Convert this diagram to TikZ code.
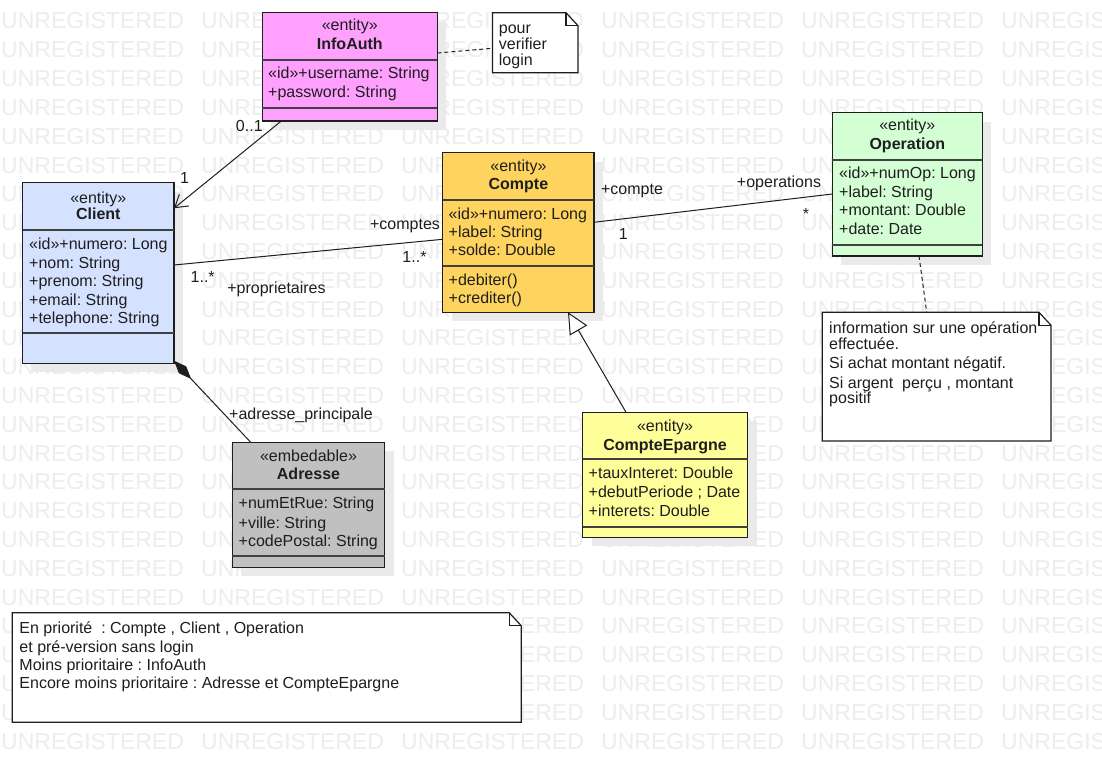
\documentclass[tikz,border=0pt]{standalone}
\usepackage{fontspec}
\setmainfont{Liberation Sans}
\usetikzlibrary{arrows.meta,shadows}
\definecolor{cInfo}{HTML}{FFA0FF}
\definecolor{cClient}{HTML}{D4E1FF}
\definecolor{cCompte}{HTML}{FFD45E}
\definecolor{cOper}{HTML}{D4FFD4}
\definecolor{cEpargne}{HTML}{FFFF99}
\definecolor{cAdr}{HTML}{C0C0C0}
\definecolor{wmgray}{HTML}{EDEDED}
\definecolor{shadowgray}{HTML}{EAEAEA}
\definecolor{inkc}{HTML}{1E1E1E}
\tikzset{
  classbox/.style={draw=inkc, line width=1.2pt, inner sep=0pt, outer sep=0pt,
    drop shadow={shadow xshift=9pt, shadow yshift=-9pt, fill=shadowgray, opacity=1}},
  sepline/.style={draw=black!75, line width=2pt},
  notebox/.style={inner sep=0pt, outer sep=0pt},
  noteline/.style={draw=inkc, line width=1.2pt, line join=miter},
  txt/.style={font=\fontsize{16}{18}\selectfont\frenchspacing, inner sep=0pt, text=inkc},
  wm/.style={font=\fontsize{23}{23}\selectfont, text=wmgray, inner sep=0pt, anchor=base west},
  conn/.style={draw=inkc, line width=1pt},
}
\newcommand\umlbox[8]{%
  \node[classbox, fill=#6, minimum width=#4pt, minimum height=#5pt, anchor=north west] (#1) at (#2,#3) {};
  \draw[sepline] ([yshift=-#7pt]#1.north west) -- ([yshift=-#7pt]#1.north east);
  \draw[sepline] ([yshift=-#8pt]#1.north west) -- ([yshift=-#8pt]#1.north east);
}
\newcommand\notefold[1]{%
  \draw[noteline, fill=white] (#1.north west) -- ([xshift=-12pt]#1.north east) -- ([yshift=-13pt]#1.north east) -- (#1.south east) -- (#1.south west) -- cycle;
  \draw[noteline] ([xshift=-12pt]#1.north east) -- ([xshift=-12pt,yshift=-13pt]#1.north east) -- ([yshift=-13pt]#1.north east);
}
\begin{document}
\frenchspacing
\begin{tikzpicture}[x=1pt,y=-1pt]
\useasboundingbox (0,0) rectangle (1102,773);
\fill[white] (0,0) rectangle (1102,773);
% watermark
\begin{scope}
\clip (0,0) rectangle (1102,773);
\foreach \r in {0,...,25}{
  \foreach \c in {0,...,5}{
    \node[wm] (wm-\r-\c) at ({1+200*\c},{29+28.8*\r}) {UNREGISTERED};
  }
}
\end{scope}

% class boxes
\umlbox{infoauth}{262.2}{12.7}{175.2}{108.3}{cInfo}{47.6}{95}
\umlbox{client}{22.7}{182.7}{151.3}{180.6}{cClient}{47.3}{150.6}
\umlbox{compte}{442.8}{152.7}{151.2}{159.6}{cCompte}{47.6}{113.6}
\umlbox{operation}{832.3}{112.7}{150}{143.3}{cOper}{47.3}{132.3}
\umlbox{adresse}{232.3}{442.3}{152.3}{125}{cAdr}{47}{113.7}
\umlbox{epargne}{582.5}{412.3}{165.3}{125}{cEpargne}{47}{114.4}

% InfoAuth text
\node[txt,anchor=base] (infoauth-s) at (349.8,30.5) {«entity»};
\node[txt,anchor=base] (infoauth-n) at (349.8,50) {\textbf{InfoAuth}};
\node[txt,anchor=base west] (infoauth-a1) at (268,78.2) {«id»+username: String};
\node[txt,anchor=base west] (infoauth-a2) at (268,97.2) {+password: String};

% Client text
\node[txt,anchor=base] (client-s) at (98.3,203) {«entity»};
\node[txt,anchor=base] (client-n) at (98.3,219.5) {\textbf{Client}};
\node[txt,anchor=base west] (client-a1) at (29,249.5) {«id»+numero: Long};
\node[txt,anchor=base west] (client-a2) at (29,268) {+nom: String};
\node[txt,anchor=base west] (client-a3) at (29,286.5) {+prenom: String};
\node[txt,anchor=base west] (client-a4) at (29,305) {+email: String};
\node[txt,anchor=base west] (client-a5) at (29,323.5) {+telephone: String};

% Compte text
\node[txt,anchor=base] (compte-s) at (518.4,171) {«entity»};
\node[txt,anchor=base] (compte-n) at (518.4,189.8) {\textbf{Compte}};
\node[txt,anchor=base west] (compte-a1) at (448.5,219.5) {«id»+numero: Long};
\node[txt,anchor=base west] (compte-a2) at (448.5,237.8) {+label: String};
\node[txt,anchor=base west] (compte-a3) at (448.5,255.8) {+solde: Double};
\node[txt,anchor=base west] (compte-m1) at (448.5,285.5) {+debiter()};
\node[txt,anchor=base west] (compte-m2) at (448.5,303.8) {+crediter()};

% Operation text
\node[txt,anchor=base] (operation-s) at (907.3,130.5) {«entity»};
\node[txt,anchor=base] (operation-n) at (907.3,149.8) {\textbf{Operation}};
\node[txt,anchor=base west] (operation-a1) at (839,178.8) {«id»+numOp: Long};
\node[txt,anchor=base west] (operation-a2) at (839,197.8) {+label: String};
\node[txt,anchor=base west] (operation-a3) at (839,215.8) {+montant: Double};
\node[txt,anchor=base west] (operation-a4) at (839,234.8) {+date: Date};

% Adresse text
\node[txt,anchor=base] (adresse-s) at (308.5,461.5) {«embedable»};
\node[txt,anchor=base] (adresse-n) at (308.5,479.8) {\textbf{Adresse}};
\node[txt,anchor=base west] (adresse-a1) at (238.5,508.8) {+numEtRue: String};
\node[txt,anchor=base west] (adresse-a2) at (238.5,528) {+ville: String};
\node[txt,anchor=base west] (adresse-a3) at (238.5,546.2) {+codePostal: String};

% CompteEpargne text
\node[txt,anchor=base] (epargne-s) at (665.1,431.8) {«entity»};
\node[txt,anchor=base] (epargne-n) at (665.1,450.5) {\textbf{CompteEpargne}};
\node[txt,anchor=base west] (epargne-a1) at (588.5,478.8) {+tauxInteret: Double};
\node[txt,anchor=base west] (epargne-a2) at (588.5,497.8) {+debutPeriode ; Date};
\node[txt,anchor=base west] (epargne-a3) at (588.5,516.5) {+interets: Double};

% notes
\node[notebox, minimum width=85.5pt, minimum height=60pt, anchor=north west] (note1) at (492.5,12.7) {};
\notefold{note1}
\node[txt,anchor=base west] (note1-l1) at (498.7,34) {pour};
\node[txt,anchor=base west] (note1-l2) at (498.7,50) {verifier};
\node[txt,anchor=base west] (note1-l3) at (498.7,66) {login};

\node[notebox, minimum width=228.7pt, minimum height=128.7pt, anchor=north west] (note2) at (822.3,312.3) {};
\notefold{note2}
\node[txt,anchor=base west] (note2-l1) at (829,333.8) {information sur une opération};
\node[txt,anchor=base west] (note2-l2) at (829,349.8) {effectuée.};
\node[txt,anchor=base west] (note2-l3) at (829,368.8) {Si achat montant négatif.};
\node[txt,anchor=base west] (note2-l4) at (829,388.2) {Si argent\ \ perçu , montant};
\node[txt,anchor=base west] (note2-l5) at (829,403.8) {positif};

\node[notebox, minimum width=508.9pt, minimum height=109.6pt, anchor=north west] (note3) at (12.3,612.7) {};
\notefold{note3}
\node[txt,anchor=base west] (note3-l1) at (19.3,633.8) {En priorité\ \ : Compte , Client , Operation};
\node[txt,anchor=base west] (note3-l2) at (19.3,652.2) {et pré-version sans login};
\node[txt,anchor=base west] (note3-l3) at (19.3,670.5) {Moins prioritaire : InfoAuth};
\node[txt,anchor=base west] (note3-l4) at (19.3,688.8) {Encore moins prioritaire : Adresse et CompteEpargne};

% connectors
\draw[conn, -{Straight Barb[length=12pt,width=15pt]}] ([xshift=19.1pt]infoauth.south west) -- ([yshift=-25.6pt]client.north east);
\draw[conn] ([yshift=-82.3pt]client.north east) -- ([yshift=-86.6pt]compte.north west);
\draw[conn] ([yshift=-69.6pt]compte.north east) -- ([yshift=-81.3pt]operation.north west);
\draw[conn, -{Triangle[length=21pt,width=20pt,fill=white]}] ([xshift=43.5pt]epargne.north west) -- ([xshift=125.2pt]compte.south west);
\draw[conn, {Diamond[length=25pt,width=10pt]}-] ([yshift=2.6pt]client.south east) -- ([xshift=18.4pt]adresse.north west);
\draw[conn, dash pattern=on 4pt off 3pt] ([yshift=-40.3pt]infoauth.north east) -- ([yshift=-35.6pt]note1.north west);
\draw[conn, dash pattern=on 4pt off 3pt] ([xshift=86.7pt]operation.south west) -- ([xshift=104.4pt]note2.north west);

% connector labels
\node[txt,anchor=base] (lab-01) at (249.3,131.5) {0..1};
\node[txt,anchor=base] (lab-1a) at (184.5,183) {1};
\node[txt,anchor=base] (lab-comptes) at (405,229.5) {+comptes};
\node[txt,anchor=base] (lab-1n-compte) at (414.5,262.8) {1..*};
\node[txt,anchor=base] (lab-1n-client) at (202.7,282.8) {1..*};
\node[txt,anchor=base] (lab-prop) at (276.5,293.2) {+proprietaires};
\node[txt,anchor=base] (lab-compte) at (632,194.8) {+compte};
\node[txt,anchor=base] (lab-ops) at (779,187.8) {+operations};
\node[txt,anchor=base] (lab-star) at (806,219) {*};
\node[txt,anchor=base] (lab-1b) at (623.3,239) {1};
\node[txt,anchor=base] (lab-adr) at (301,419.5) {+adresse\_principale};
\end{tikzpicture}
\end{document}
